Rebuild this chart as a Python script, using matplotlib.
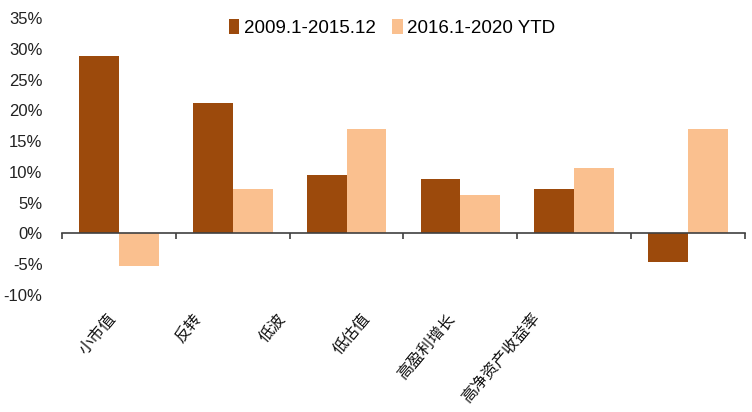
import numpy as np
import matplotlib.pyplot as plt
import matplotlib.transforms as mtransforms

plt.rcParams['font.family'] = ['Liberation Sans', 'Noto Sans CJK SC', 'DejaVu Sans']

categories = ['小市值', '反转', '低波', '低估值', '高盈利增长', '高净资产收益率']
series_names = ['2009.1-2015.12', '2016.1-2020 YTD']
period1 = [28.8, 21.2, 9.5, 8.9, 7.2, -4.7]
period2 = [-5.3, 7.2, 16.9, 6.2, 10.6, 17.0]
yticks = [-10, -5, 0, 5, 10, 15, 20, 25, 30, 35]

dark = '#9C4A0C'
light = '#FAC08F'

fig = plt.figure(figsize=(7.52, 4.12), dpi=100)
ax = fig.add_axes([62 / 752, 1 - 295 / 412, (745 - 62) / 752, 277 / 412])

x = np.arange(len(categories))
w = 0.35
ax.bar(x - w / 2, period1, w, color=dark, label=series_names[0])
ax.bar(x + w / 2, period2, w, color=light, label=series_names[1])

ax.set_xlim(-0.5, len(categories) - 0.5)
ax.set_ylim(-10, 35)
ax.set_yticks(yticks)
ax.set_yticklabels([f'{v}%' for v in yticks], fontsize=12, color='#222222')
ax.tick_params(axis='y', length=0, pad=14)

for s in ['left', 'top', 'right']:
    ax.spines[s].set_visible(False)
ax.spines['bottom'].set_position(('data', 0))
ax.spines['bottom'].set_color('#404040')
ax.spines['bottom'].set_linewidth(1.2)
ax.set_xticks(np.arange(len(categories) + 1) - 0.5)
ax.set_xticklabels([])
ax.tick_params(axis='x', direction='out', length=4, color='#404040', width=1.2)

# category labels, rotated under the axis
trans = mtransforms.blended_transform_factory(ax.transData, ax.transAxes)
for i, lab in enumerate(categories):
    ax.text(0.745 * i - 0.11, -0.055, lab, transform=trans, rotation=50,
            rotation_mode='anchor', ha='right', va='top', fontsize=11.5,
            family=['Noto Sans CJK SC'], color='#111111')

fig.legend(loc='center', bbox_to_anchor=(392 / 752, 1 - 28 / 412), ncol=2,
           frameon=False, fontsize=13.5, handlelength=0.55, handleheight=0.8,
           handletextpad=0.25, columnspacing=0.9, borderaxespad=0)

fig.savefig('out.png', dpi=100)
